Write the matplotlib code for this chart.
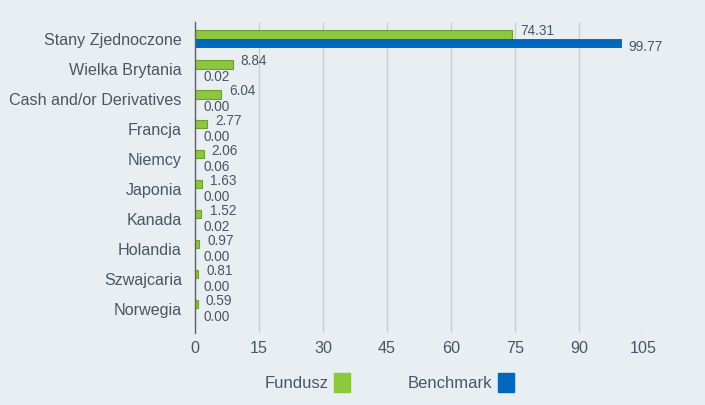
import matplotlib

matplotlib.use("Agg")
import matplotlib.pyplot as plt
import numpy as np
from matplotlib.patches import Patch

BG = "#E9EEF2"
GREEN = "#8DC63F"
GREEN_EDGE = "#6E9E2E"
BLUE = "#0068BC"
TEXT = "#4A5663"
GRID = "#C9CDD1"

countries = [
    "Stany Zjednoczone",
    "Wielka Brytania",
    "Cash and/or Derivatives",
    "Francja",
    "Niemcy",
    "Japonia",
    "Kanada",
    "Holandia",
    "Szwajcaria",
    "Norwegia",
]
fund = [74.31, 8.84, 6.04, 2.77, 2.06, 1.63, 1.52, 0.97, 0.81, 0.59]
benchmark = [99.77, 0.02, 0.00, 0.00, 0.06, 0.00, 0.02, 0.00, 0.00, 0.00]
xticks = [0, 15, 30, 45, 60, 75, 90, 105]

plt.rcParams["font.family"] = ["Liberation Sans", "DejaVu Sans"]

fig = plt.figure(figsize=(7.05, 4.05), dpi=100)
fig.patch.set_facecolor(BG)
ax = fig.add_axes([0.2766, 0.178, 0.6355, 0.768])
ax.set_facecolor(BG)

y = np.arange(len(countries))
h = 0.27
gb = ax.barh(y - 0.15, fund, height=h, color=GREEN, edgecolor=GREEN_EDGE, linewidth=0.8, zorder=3)
bb = ax.barh(y + 0.12, benchmark, height=h, color=BLUE, edgecolor="#0B5A9E", linewidth=0.6, zorder=3)

for bar, val in zip(gb, fund):
    ax.annotate(f"{val:.2f}", (bar.get_width(), bar.get_y() + bar.get_height() / 2),
                xytext=(5.8, 2.5), textcoords="offset points", ha="left", va="center",
                fontsize=9.8, color=TEXT, zorder=4)
for bar, val in zip(bb, benchmark):
    ax.annotate(f"{val:.2f}", (bar.get_width(), bar.get_y() + bar.get_height() / 2),
                xytext=(5.8, -3.4), textcoords="offset points", ha="left", va="center",
                fontsize=9.8, color=TEXT, zorder=4)

ax.set_yticks(y)
ax.set_yticklabels(countries)
ax.set_ylim(9.8, -0.57)
ax.set_xlim(0, 105)
ax.set_xticks(xticks)
ax.tick_params(axis="y", length=0, pad=9.5, labelsize=11.6, colors=TEXT)
ax.tick_params(axis="x", length=0, pad=6, labelsize=11.6, colors=TEXT)
ax.grid(axis="x", color=GRID, linewidth=0.9, zorder=0)
for s in ("top", "right", "bottom"):
    ax.spines[s].set_visible(False)
ax.spines["left"].set_color("#5A646E")
ax.spines["left"].set_linewidth(1.0)
ax.spines["left"].set_zorder(5)

handles = [Patch(facecolor=GREEN, edgecolor=GREEN), Patch(facecolor=BLUE, edgecolor=BLUE)]
leg = fig.legend(handles, ["Fundusz", "Benchmark"], loc="center", bbox_to_anchor=(0.552, 0.055),
                 ncol=2, frameon=False, markerfirst=False, fontsize=12,
                 handlelength=0.95, handleheight=1.35, handletextpad=0.35, columnspacing=3.45)
for t in leg.get_texts():
    t.set_color(TEXT)

fig.savefig("out.png", dpi=100, facecolor=BG)
